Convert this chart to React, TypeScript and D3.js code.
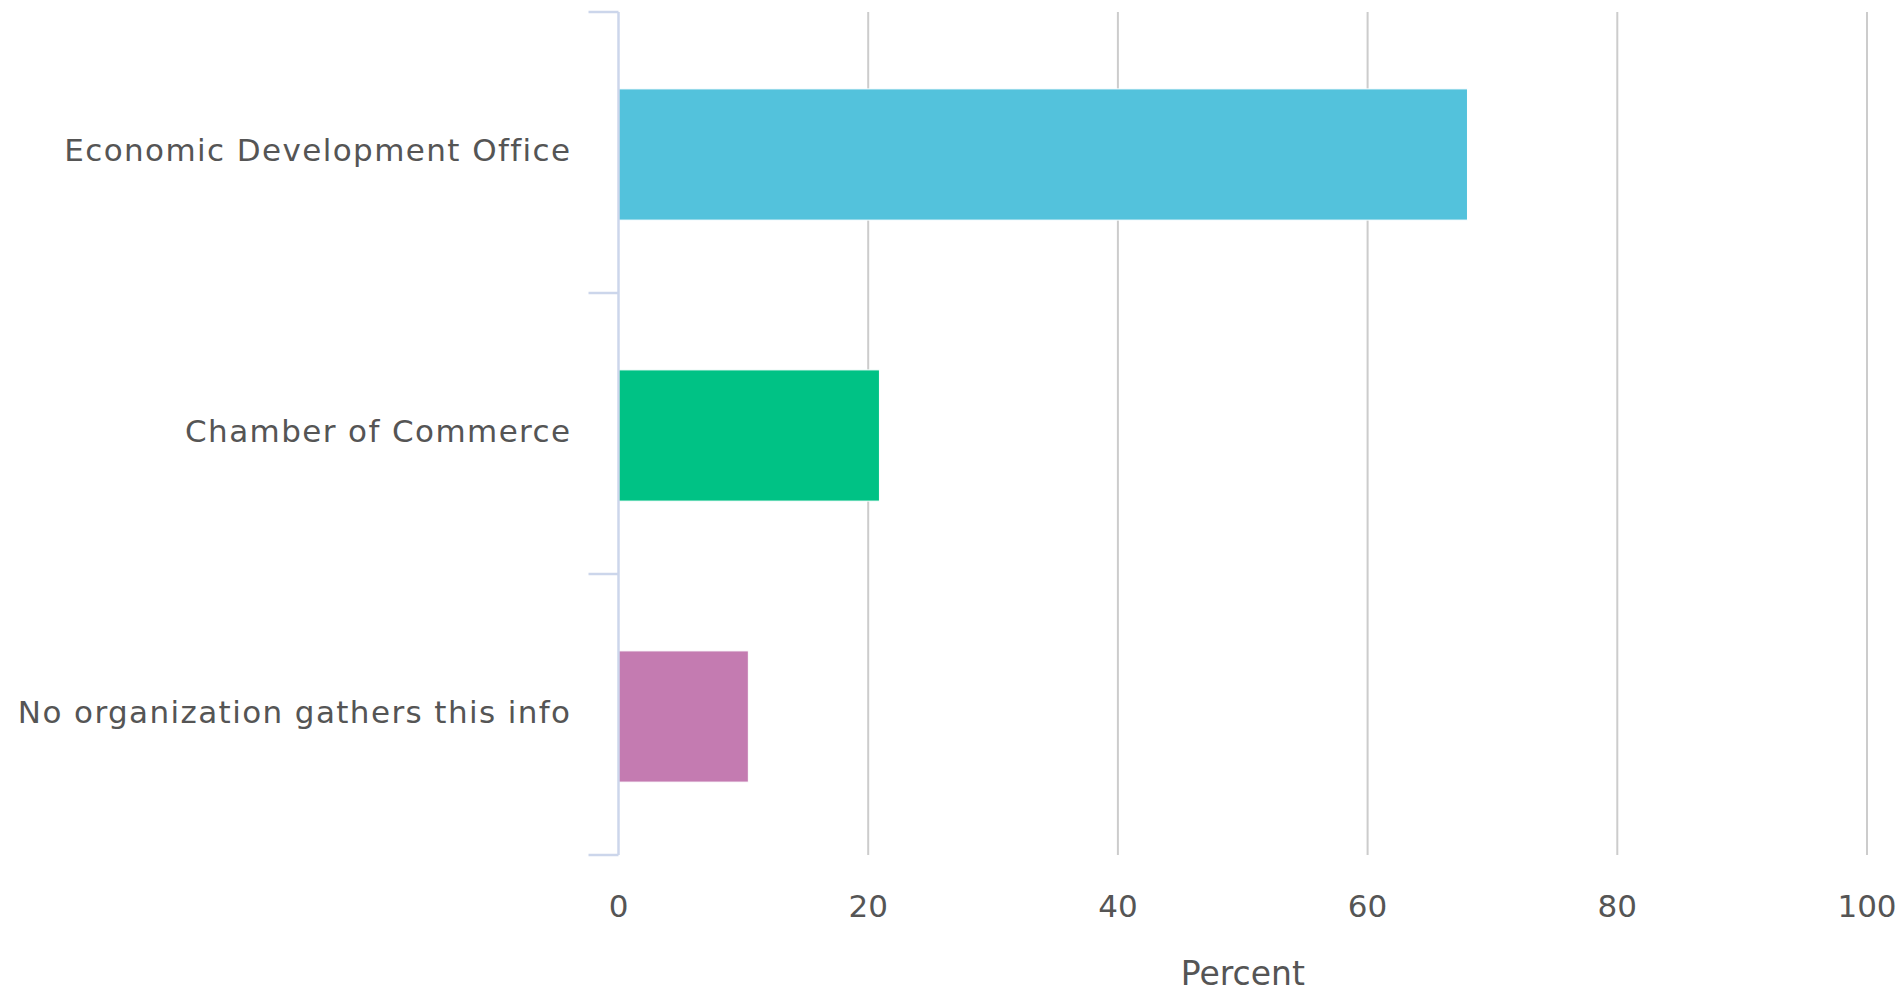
import React from "react";
import * as d3 from "d3";

const categories = ["Economic Development Office", "Chamber of Commerce", "No organization gathers this info"];
const values = [68.0, 20.9, 10.4];
const colors = ["#53c2dc", "#00c285", "#c47bb1"];
const xTicks = [0, 20, 40, 60, 80, 100];
const xTitle = "Percent";

const W = 1898;
const H = 992;
const left = 618.5;
const right = 1867;
const top = 12;
const bottom = 855;
const font = "'DejaVu Sans', sans-serif";

export default function App() {
  const x = d3.scaleLinear().domain([0, 100]).range([left, right]);
  const y = d3.scaleBand<string>().domain(categories).range([top, bottom]).paddingInner(0).paddingOuter(0);
  const bw = y.bandwidth();
  const barH = bw * 0.467;
  const bounds = [top, ...categories.map((c) => (y(c) as number) + bw)];
  return (
    <svg width={W} height={H} style={{ position: "absolute", left: 0, top: 0, background: "#fff" }}>
      {xTicks.filter((t) => t > 0).map((t) => (
        <line key={t} x1={x(t)} x2={x(t)} y1={top} y2={bottom} stroke="#cccccc" strokeWidth={2} />
      ))}
      {categories.map((c, i) => (
        <rect
          key={c}
          x={x(0)}
          y={(y(c) as number) + bw / 2 - barH / 2 + 2}
          width={x(values[i]) - x(0)}
          height={barH}
          fill={colors[i]}
          stroke="#ffffff"
          strokeWidth={1}
        />
      ))}
      <line x1={left} x2={left} y1={top} y2={bottom} stroke="#ccd6eb" strokeWidth={2.5} />
      {bounds.map((b, i) => (
        <line key={i} x1={left - 30} x2={left} y1={b} y2={b} stroke="#ccd6eb" strokeWidth={2.5} />
      ))}
      {categories.map((c) => (
        <text
          key={c}
          x={left - 47}
          y={(y(c) as number) + bw / 2 - 2.5}
          dy="0.36em"
          textAnchor="end"
          fontFamily={font}
          fontSize={31}
          letterSpacing={1.4}
          fill="#555555"
        >
          {c}
        </text>
      ))}
      {xTicks.map((t) => (
        <text key={t} x={x(t)} y={917} textAnchor="middle" fontFamily={font} fontSize={31} fill="#555555">
          {t}
        </text>
      ))}
      <text x={(left + right) / 2} y={985} textAnchor="middle" fontFamily={font} fontSize={33} fill="#555555">
        {xTitle}
      </text>
    </svg>
  );
}
